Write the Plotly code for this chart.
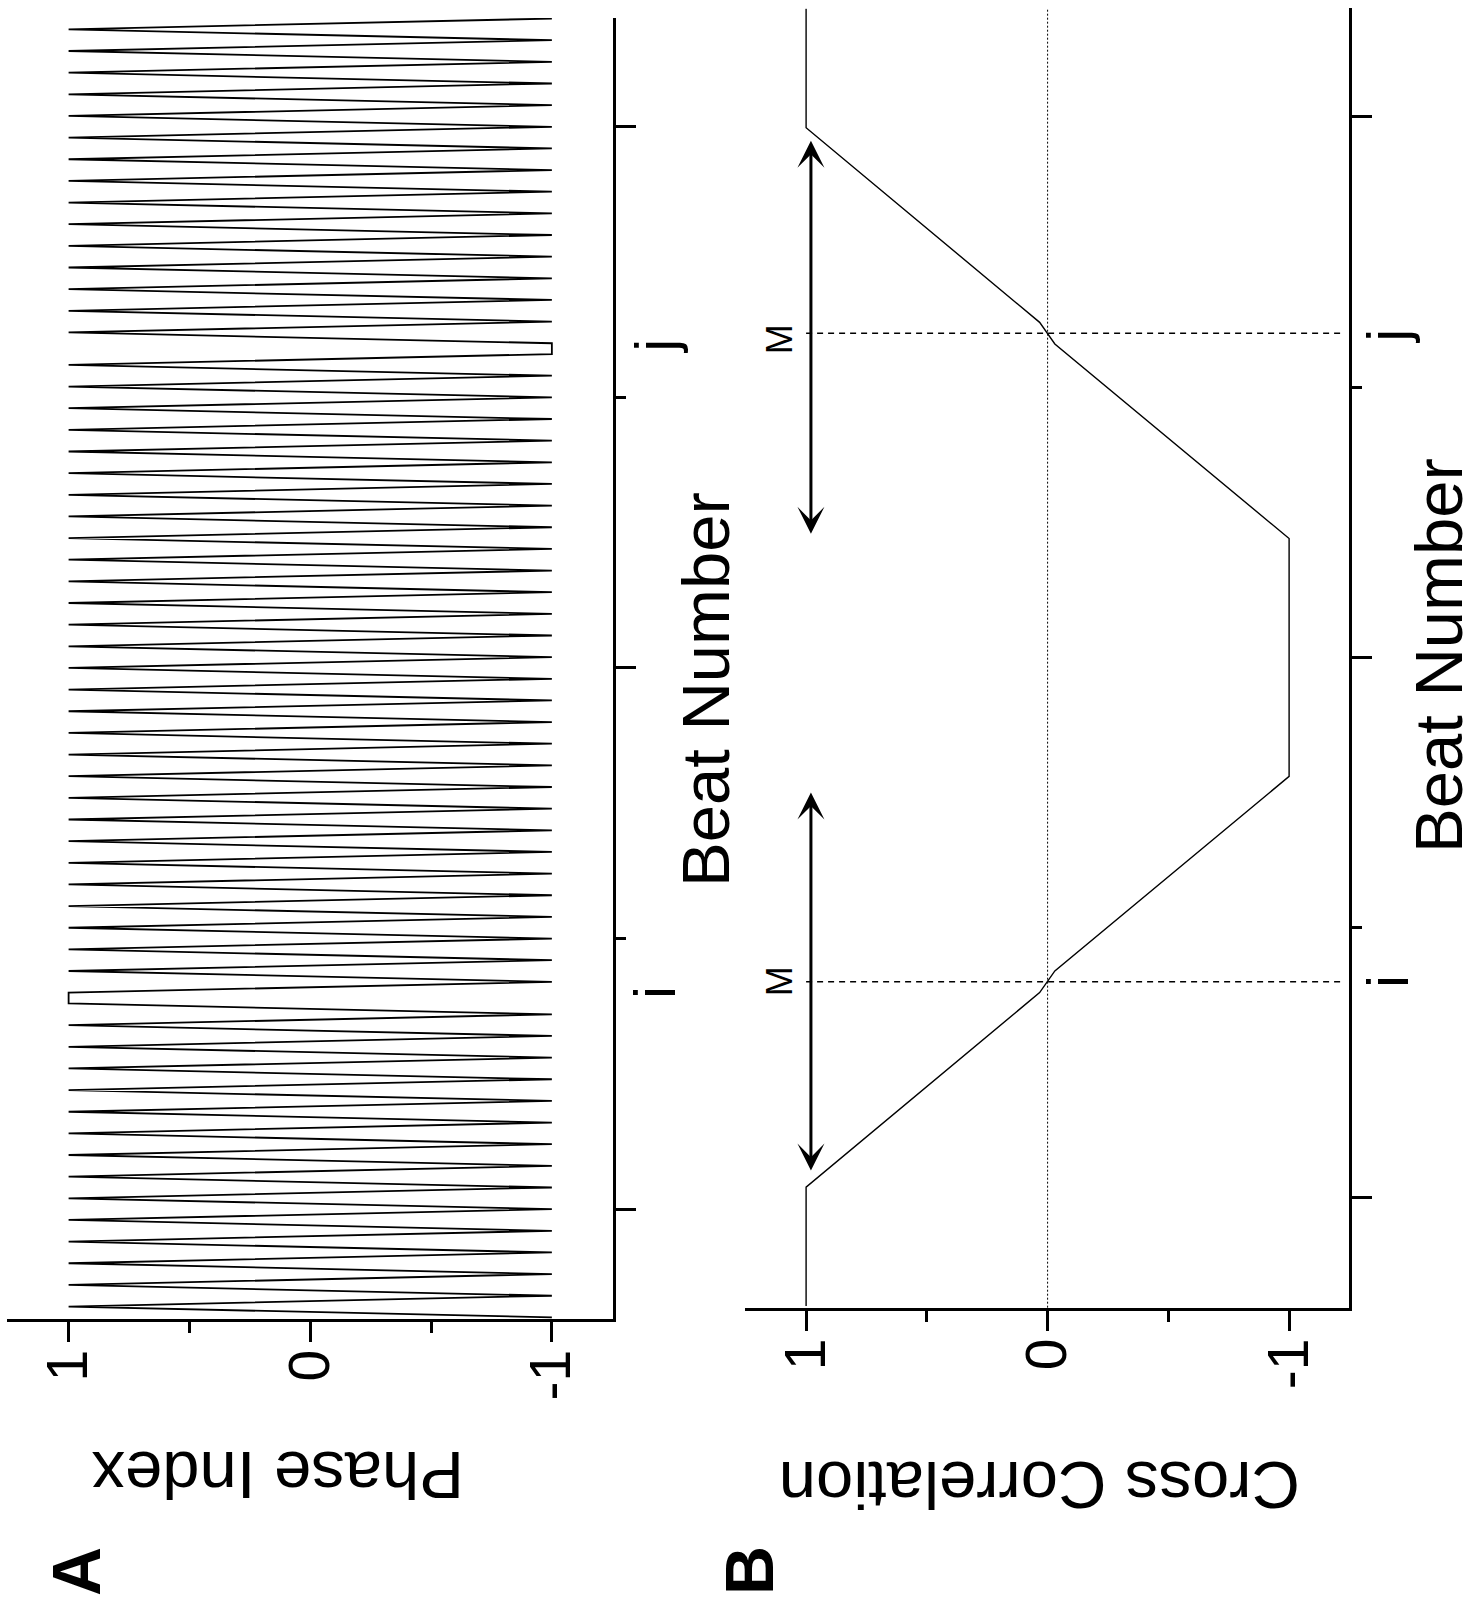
import plotly.graph_objects as go

# ---------------- data ----------------
# Panel A: phase index for each beat (beat numbers -10 .. 110)
beat_numbers = list(range(-10, 111))
phase_index = [
    -1, 1, -1, 1, -1, 1, -1, 1, -1, 1, -1, 1, -1, 1, -1, 1, -1, 1, -1, 1,
    -1, 1, -1, 1, -1, 1, -1, 1, -1, 1,                       # beats -10..19
    1, -1, 1, -1, 1, -1, 1, -1, 1, -1, 1, -1, 1, -1, 1, -1, 1, -1, 1, -1,
    1, -1, 1, -1, 1, -1, 1, -1, 1, -1, 1, -1, 1, -1, 1, -1, 1, -1, 1, -1,
    1, -1, 1, -1, 1, -1, 1, -1, 1, -1, 1, -1, 1, -1, 1, -1, 1, -1, 1, -1,  # beats 20..79
    -1, 1, -1, 1, -1, 1, -1, 1, -1, 1, -1, 1, -1, 1, -1, 1, -1, 1, -1, 1,
    -1, 1, -1, 1, -1, 1, -1, 1, -1, 1, -1,                   # beats 80..110
]

# Panel B: cross correlation (piecewise-linear breakpoints)
corr_beats = [-10, 1, 19, 20, 21, 39, 61, 79, 80, 81, 99, 110]
corr_values = [1, 1, 0.033, 0, -0.03, -1, -1, -0.03, 0, 0.033, 1, 1]

# event beats and window arrows
i_beat = 20
j_beat = 80
arrow_spans = [(2.4, 37.5), (61.3, 97.8)]

phase_ticks = [-1, 0, 1]
phase_ticktext = ["-1", "0", "1"]
phase_minor = [-0.5, 0.5]
beat_major = [0, 50, 100]
beat_minor = [25, 75]

# ---------------- layout helpers ----------------
W, H = 1479, 1606
FONT = "Liberation Sans, Arial, Helvetica, sans-serif"


def px(x):
    return x / W


def py(y):
    return 1 - y / H


fig = go.Figure()

fig.add_trace(go.Scatter(x=phase_index, y=beat_numbers, mode="lines",
                         line=dict(color="black", width=1.8),
                         xaxis="x", yaxis="y", hoverinfo="skip"))
fig.add_trace(go.Scatter(x=corr_values, y=corr_beats, mode="lines",
                         line=dict(color="black", width=1.4),
                         xaxis="x2", yaxis="y2", hoverinfo="skip"))

beat_range = [-10.15, 110.05]


def phase_axis(domain, rng, anchor):
    return dict(domain=domain, range=rng, anchor=anchor,
                showgrid=False, zeroline=False,
                showline=True, linewidth=3, linecolor="black",
                ticks="outside", ticklen=20, tickwidth=3, tickcolor="black",
                tickvals=phase_ticks, ticktext=phase_ticktext,
                tickangle=-90, ticklabelstandoff=-15,
                tickfont=dict(family=FONT, size=57, color="black"),
                minor=dict(tickvals=phase_minor, ticks="outside", ticklen=11,
                           tickwidth=3, tickcolor="black", showgrid=False))


def beat_axis(domain, anchor):
    return dict(domain=domain, range=beat_range, anchor=anchor, side="right",
                showgrid=False, zeroline=False,
                showline=True, linewidth=3, linecolor="black",
                ticks="outside", ticklen=20, tickwidth=3, tickcolor="black",
                tickvals=beat_major, showticklabels=False,
                minor=dict(tickvals=beat_minor, ticks="outside", ticklen=10,
                           tickwidth=3, tickcolor="black", showgrid=False))


fig.update_layout(
    width=W, height=H,
    margin=dict(l=0, r=0, t=0, b=0),
    paper_bgcolor="white", plot_bgcolor="white",
    showlegend=False,
    font=dict(family=FONT, color="black"),
    xaxis=phase_axis([px(7), px(613)], [1.255, -1.253], "y"),
    yaxis=beat_axis([py(1319), py(18)], "x"),
    xaxis2=phase_axis([px(745), px(1349)], [1.253, -1.248], "y2"),
    yaxis2=beat_axis([py(1307.7), py(8.3)], "x2"),
)

# zero line and event lines in panel B
fig.add_shape(type="line", xref="x2", yref="y2 domain", x0=0, x1=0, y0=0, y1=1,
              line=dict(color="black", width=1, dash="2px,2px"))
for b in (i_beat, j_beat):
    fig.add_shape(type="line", xref="x2", yref="y2", x0=1, x1=-1.23, y0=b, y1=b,
                  line=dict(color="black", width=1.5, dash="6px,5px"))

# window arrows
for lo, hi in arrow_spans:
    fig.add_annotation(x=0.98, y=hi, ax=0.98, ay=lo, xref="x2", yref="y2",
                       axref="x2", ayref="y2", text="", showarrow=True,
                       arrowhead=3, startarrowhead=3, arrowside="end+start",
                       arrowsize=1.5, startarrowsize=1.5, arrowwidth=3,
                       arrowcolor="black", standoff=0, startstandoff=0)

# M labels
for b in (i_beat, j_beat - 0.6):
    fig.add_annotation(x=1.11, y=b, xref="x2", yref="y2", text="M", showarrow=False,
                       textangle=-90, font=dict(family=FONT, size=36, color="black"),
                       xanchor="center", yanchor="middle")

# i / j labels
for yref, xpos in (("y", 655), ("y2", 1388)):
    for lab, b in (("i", i_beat), ("j", j_beat - 0.3)):
        fig.add_annotation(x=px(xpos), y=b, xref="paper", yref=yref, text=lab,
                           showarrow=False, textangle=-90,
                           font=dict(family=FONT, size=57, color="black"),
                           xanchor="center", yanchor="middle")

# axis titles
titles = [
    ("Phase Index", 278, 1476, 180),
    ("Cross Correlation", 1040, 1486, 180),
    ("Beat Number", 706, 690, -90),
    ("Beat Number", 1438, 656, -90),
]
for txt, x, y, ang in titles:
    fig.add_annotation(x=px(x), y=py(y), xref="paper", yref="paper", text=txt,
                       showarrow=False, textangle=ang,
                       font=dict(family=FONT, size=67, color="black"),
                       xanchor="center", yanchor="middle")

# panel letters
for lab, x, y in (("A", 76, 1572), ("B", 749, 1571)):
    fig.add_annotation(x=px(x), y=py(y), xref="paper", yref="paper",
                       text="<b>%s</b>" % lab, showarrow=False, textangle=-90,
                       font=dict(family=FONT, size=68, color="black"),
                       xanchor="center", yanchor="middle")

fig.write_html("out.html", config={"displayModeBar": False},
               post_script="document.body.style.margin='0px';")
